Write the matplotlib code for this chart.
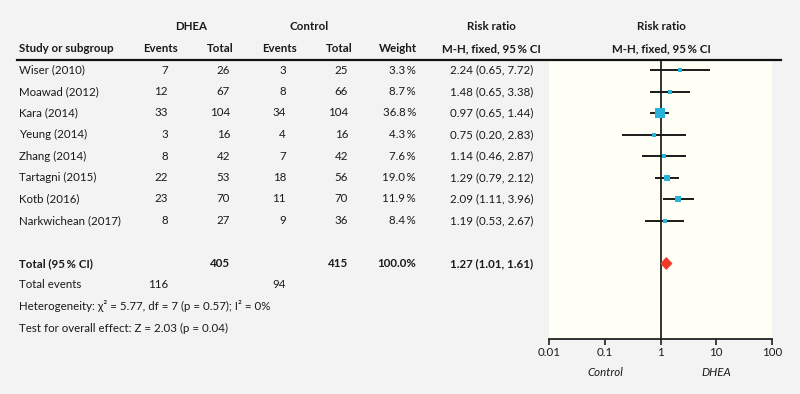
import matplotlib
matplotlib.use("Agg")
import matplotlib.pyplot as plt
from matplotlib.patches import Polygon
import numpy as np

plt.rcParams['font.family'] = ['Lato', 'DejaVu Sans']

studies = ["Wiser (2010)", "Moawad (2012)", "Kara (2014)", "Yeung (2014)",
           "Zhang (2014)", "Tartagni (2015)", "Kotb (2016)", "Narkwichean (2017)"]
dhea_events = [7, 12, 33, 3, 8, 22, 23, 8]
dhea_total = [26, 67, 104, 16, 42, 53, 70, 27]
ctrl_events = [3, 8, 34, 4, 7, 18, 11, 9]
ctrl_total = [25, 66, 104, 16, 42, 56, 70, 36]
weights = [3.3, 8.7, 36.8, 4.3, 7.6, 19.0, 11.9, 8.4]
rr = [2.24, 1.48, 0.97, 0.75, 1.14, 1.29, 2.09, 1.19]
rr_lo = [0.65, 0.65, 0.65, 0.20, 0.46, 0.79, 1.11, 0.53]
rr_hi = [7.72, 3.38, 1.44, 2.83, 2.87, 2.12, 3.96, 2.67]

total_dhea = 405
total_ctrl = 415
total_weight = 100.0
pooled = 1.27
pooled_lo = 1.01
pooled_hi = 1.61
events_dhea_sum = 116
events_ctrl_sum = 94
heterogeneity = "Heterogeneity: χ² = 5.77, df = 7 (p = 0.57); I² = 0%"
overall = "Test for overall effect: Z = 2.03 (p = 0.04)"
xticks = [0.01, 0.1, 1, 10, 100]
xticklabels = ["0.01", "0.1", "1", "10", "100"]

W, H = 800, 394
BG = "#f3f3f3"
CREAM = "#fffff6"
TXT = "#1a1a1a"
SQ = "#2ab4d9"
DIA = "#ee3a24"

fig = plt.figure(figsize=(W / 100, H / 100), dpi=100, facecolor=BG)

def fx(px):
    return px / W

def fy(py):
    return 1 - py / H

ROW0 = 70.0
DROW = 21.5

def rowy(i):
    return ROW0 + i * DROW

FS = 8.3

def t(x, i, s, ha="left", bold=False, italic=False, yp=None):
    y = rowy(i) if yp is None else yp
    fig.text(fx(x), fy(y), s, ha=ha, va="center", fontsize=FS, color=TXT,
             fontweight="bold" if bold else "normal",
             fontstyle="italic" if italic else "normal")

# headers
t(191.5, -2, "DHEA", ha="center", bold=True)
t(309, -2, "Control", ha="center", bold=True)
t(491, -2, "Risk ratio", ha="center", bold=True)
t(661, -2, "Risk ratio", ha="center", bold=True)
t(19, -1, "Study or subgroup", bold=True)
t(161, -1, "Events", ha="center", bold=True)
t(220, -1, "Total", ha="center", bold=True)
t(279.5, -1, "Events", ha="center", bold=True)
t(339, -1, "Total", ha="center", bold=True)
t(417, -1, "Weight", ha="right", bold=True)
t(491, -1, "M-H, fixed, 95\u2009% CI", ha="center", bold=True)
t(661, -1, "M-H, fixed, 95\u2009% CI", ha="center", bold=True)

# header rule
fig.add_artist(plt.Line2D([fx(17), fx(781)], [fy(60), fy(60)], color="#111111",
                          lw=1.6, transform=fig.transFigure))

# forest axes
L, R, T, B = 549, 772, 60, 339
ax = fig.add_axes([fx(L), fy(B), fx(R) - fx(L), fy(T) - fy(B)])
ax.set_facecolor(CREAM)
ax.set_xscale("log")
ax.set_xlim(0.01, 100)
ax.set_ylim((B - ROW0) / DROW, (T - ROW0) / DROW)
for s in ["top", "left", "right"]:
    ax.spines[s].set_visible(False)
ax.spines["bottom"].set_linewidth(1.3)
ax.spines["bottom"].set_color("#222222")
ax.set_yticks([])
ax.set_xticks(xticks)
ax.set_xticklabels(xticklabels)
ax.minorticks_off()
ax.tick_params(axis="x", direction="out", length=4, width=1.2, color="#222222",
               labelsize=FS, labelcolor=TXT, pad=2)
ax.axvline(1, color="#111111", lw=1.2, zorder=1)

maxw = max(weights)
for i in range(len(studies)):
    ax.plot([rr_lo[i], rr_hi[i]], [i, i], color="#1a1a1a", lw=1.4, zorder=2,
            solid_capstyle="butt")
    side_px = max(3.8, 9.5 * np.sqrt(weights[i] / maxw))
    ax.plot([rr[i]], [i], marker="s", ms=side_px * 0.72, color=SQ, mec=SQ,
            mew=0, zorder=3, linestyle="none")

# pooled diamond
yd = 9
hd = 6.0 / DROW
ax.add_patch(Polygon([[pooled_lo, yd], [pooled, yd - hd], [pooled_hi, yd], [pooled, yd + hd]],
                     closed=True, facecolor=DIA, edgecolor=DIA, lw=0.5, zorder=4))

# study rows
for i, name in enumerate(studies):
    t(19, i, name)
    t(168, i, str(dhea_events[i]), ha="right")
    t(230, i, str(dhea_total[i]), ha="right")
    t(286, i, str(ctrl_events[i]), ha="right")
    t(348, i, str(ctrl_total[i]), ha="right")
    t(416, i, f"{weights[i]:.1f}\u2009%", ha="right")
    t(533, i, f"{rr[i]:.2f} ({rr_lo[i]:.2f}, {rr_hi[i]:.2f})", ha="right")

# totals
t(19, 9, "Total (95\u2009% CI)", bold=True)
t(230, 9, str(total_dhea), ha="right", bold=True)
t(348, 9, str(total_ctrl), ha="right", bold=True)
t(416, 9, f"{total_weight:.1f}%", ha="right", bold=True)
t(533, 9, f"{pooled:.2f} ({pooled_lo:.2f}, {pooled_hi:.2f})", ha="right", bold=True)
t(19, 10, "Total events")
t(168, 10, str(events_dhea_sum), ha="right")
t(286, 10, str(events_ctrl_sum), ha="right")
t(19, 11, heterogeneity)
t(19, 12, overall)

# favours labels
t(605, 0, "Control", ha="center", italic=True, yp=373)
t(716, 0, "DHEA", ha="center", italic=True, yp=373)

fig.savefig("out.png", dpi=100, facecolor=BG)
